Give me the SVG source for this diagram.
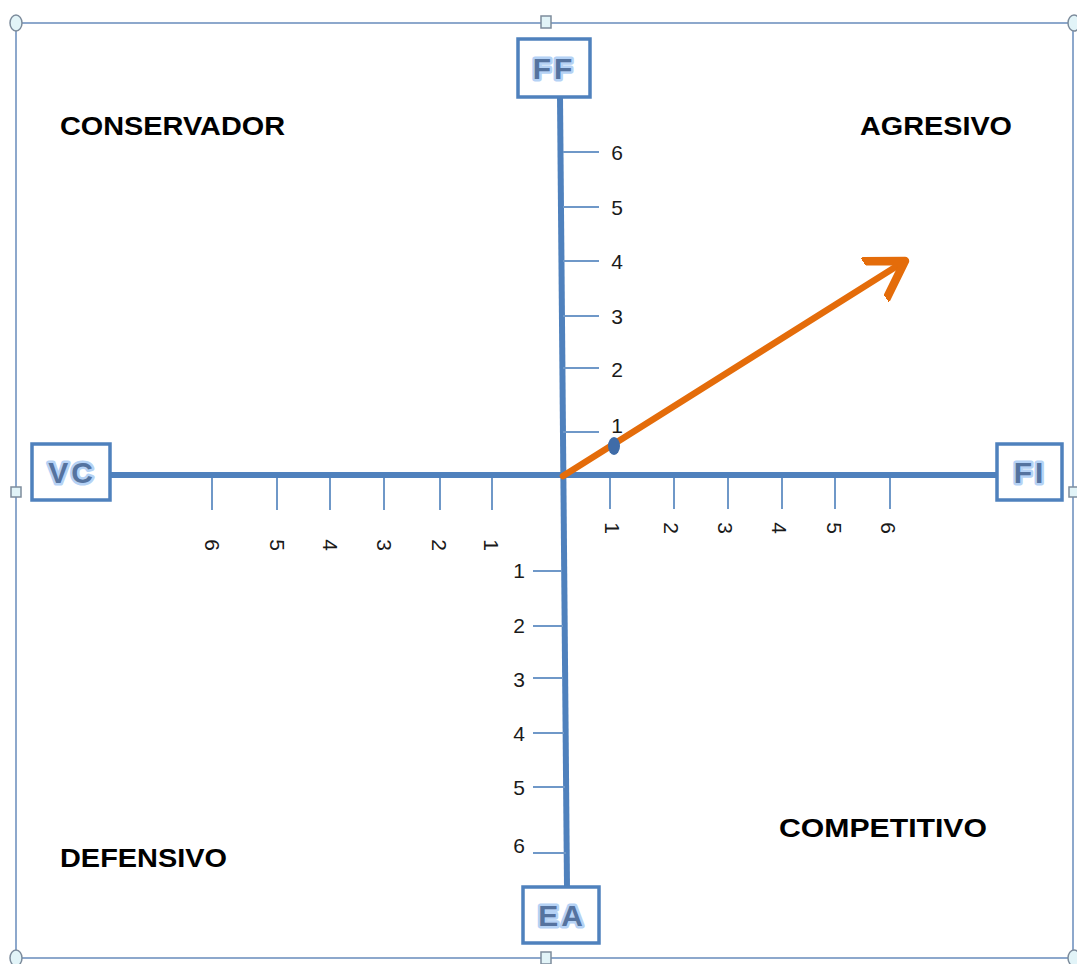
<svg xmlns="http://www.w3.org/2000/svg" width="1077" height="964" viewBox="0 0 1077 964">
<style>
.frame{fill:none;stroke:#8da8cc;stroke-width:2}
.hc{fill:#e2f4f8;stroke:#7d8c9c;stroke-width:1.5}
.box{fill:#ffffff;stroke:#4f81bd;stroke-width:3.5}
.axis{stroke:#4f81bd;stroke-width:6;fill:none}
.tick{stroke:#6f98c8;stroke-width:2}
.num{font-family:"Liberation Sans",Arial,sans-serif;font-size:21px;fill:#1a1a1a}
.quad{font-family:"Liberation Sans",Arial,sans-serif;font-size:26px;font-weight:bold;fill:#000}
.blbl{font-family:"Liberation Sans",Arial,sans-serif;font-size:30px;font-weight:bold;fill:#55739f;stroke:#b5d2f5;stroke-width:5;paint-order:stroke;stroke-linejoin:round;letter-spacing:3px}
</style>
<defs>
<marker id="arr" markerWidth="8" markerHeight="8" refX="5.5" refY="4" orient="auto" markerUnits="strokeWidth" viewBox="0 0 8 8">
<polyline points="0,0.6 5.5,4 0,7.4" fill="none" stroke="#e46c0a" stroke-width="1.3" stroke-linecap="round" stroke-linejoin="round"/>
</marker>
</defs>
<rect width="1077" height="964" fill="#ffffff"/>
<g id="frame">
<rect class="frame" x="16" y="23" width="1057" height="935"/>
<ellipse class="hc" cx="16" cy="23" rx="6" ry="8"/>
<ellipse class="hc" cx="1074" cy="23" rx="6" ry="8"/>
<ellipse class="hc" cx="16" cy="958" rx="6" ry="8"/>
<ellipse class="hc" cx="1074" cy="958" rx="6" ry="8"/>
<rect class="hc" x="541" y="16" width="10" height="12"/>
<rect class="hc" x="541" y="952" width="10" height="12"/>
<rect class="hc" x="11" y="487" width="10" height="10"/>
<rect class="hc" x="1069" y="487" width="10" height="10"/>
</g>
<g id="connectors">
<line class="axis" x1="110" y1="475" x2="998" y2="475"/>
<line class="axis" x1="560" y1="97" x2="567" y2="887"/>
<g class="tick">
<line x1="212" y1="478" x2="212" y2="510"/>
<line x1="277" y1="478" x2="277" y2="510"/>
<line x1="330" y1="478" x2="330" y2="510"/>
<line x1="384" y1="478" x2="384" y2="510"/>
<line x1="440" y1="478" x2="440" y2="510"/>
<line x1="492" y1="478" x2="492" y2="510"/>
<line x1="610" y1="478" x2="610" y2="509"/>
<line x1="674" y1="478" x2="674" y2="509"/>
<line x1="728" y1="478" x2="728" y2="509"/>
<line x1="782" y1="478" x2="782" y2="509"/>
<line x1="835" y1="478" x2="835" y2="509"/>
<line x1="890" y1="478" x2="890" y2="509"/>
<line x1="563" y1="152" x2="599" y2="152"/>
<line x1="563" y1="207" x2="599" y2="207"/>
<line x1="563" y1="261" x2="599" y2="261"/>
<line x1="563" y1="316" x2="599" y2="316"/>
<line x1="563" y1="368" x2="599" y2="368"/>
<line x1="563" y1="432" x2="599" y2="432"/>
<line x1="533" y1="571" x2="562" y2="571"/>
<line x1="533" y1="626" x2="563" y2="626"/>
<line x1="533" y1="678" x2="563" y2="678"/>
<line x1="533" y1="733" x2="564" y2="733"/>
<line x1="533" y1="787" x2="565" y2="787"/>
<line x1="533" y1="853" x2="566" y2="853"/>
</g>
<line x1="563" y1="476" x2="905" y2="261" stroke="#e46c0a" stroke-width="6.5" stroke-linecap="round" marker-end="url(#arr)"/>
<ellipse cx="614" cy="446" rx="6" ry="9" fill="#3f6ca8"/>
</g>
<g id="tick-labels" class="num" text-anchor="middle">
<text x="212" y="545" transform="rotate(90 212 545)" dy="7.5">6</text>
<text x="277" y="545" transform="rotate(90 277 545)" dy="7.5">5</text>
<text x="330" y="545" transform="rotate(90 330 545)" dy="7.5">4</text>
<text x="384" y="545" transform="rotate(90 384 545)" dy="7.5">3</text>
<text x="439" y="545" transform="rotate(90 439 545)" dy="7.5">2</text>
<text x="491" y="545" transform="rotate(90 491 545)" dy="7.5">1</text>
<text x="612" y="528" transform="rotate(90 612 528)" dy="7.5">1</text>
<text x="671" y="528" transform="rotate(90 671 528)" dy="7.5">2</text>
<text x="725" y="528" transform="rotate(90 725 528)" dy="7.5">3</text>
<text x="779" y="528" transform="rotate(90 779 528)" dy="7.5">4</text>
<text x="834" y="528" transform="rotate(90 834 528)" dy="7.5">5</text>
<text x="888" y="528" transform="rotate(90 888 528)" dy="7.5">6</text>
<text x="617" y="160">6</text>
<text x="617" y="215">5</text>
<text x="617" y="269">4</text>
<text x="617" y="324">3</text>
<text x="617" y="377">2</text>
<text x="617" y="433">1</text>
<text x="519" y="578">1</text>
<text x="519" y="633">2</text>
<text x="519" y="687">3</text>
<text x="519" y="741">4</text>
<text x="519" y="795">5</text>
<text x="519" y="853">6</text>
</g>
<g id="quadrants" class="quad">
<text x="60" y="135" textLength="225" lengthAdjust="spacingAndGlyphs">CONSERVADOR</text>
<text x="860" y="135" textLength="152" lengthAdjust="spacingAndGlyphs">AGRESIVO</text>
<text x="779" y="837" textLength="208" lengthAdjust="spacingAndGlyphs">COMPETITIVO</text>
<text x="60" y="867" textLength="167" lengthAdjust="spacingAndGlyphs">DEFENSIVO</text>
</g>
<g id="node-FF">
<rect class="box" x="518" y="39" width="72" height="58"/>
<text class="blbl" x="554" y="79" text-anchor="middle">FF</text>
</g>
<g id="node-VC">
<rect class="box" x="32" y="444" width="78" height="56"/>
<text class="blbl" x="72" y="483" text-anchor="middle">VC</text>
</g>
<g id="node-FI">
<rect class="box" x="997" y="444" width="65" height="56"/>
<text class="blbl" x="1030" y="483" text-anchor="middle">FI</text>
</g>
<g id="node-EA">
<rect class="box" x="523" y="887" width="76" height="56"/>
<text class="blbl" x="562" y="926" text-anchor="middle">EA</text>
</g>
</svg>
